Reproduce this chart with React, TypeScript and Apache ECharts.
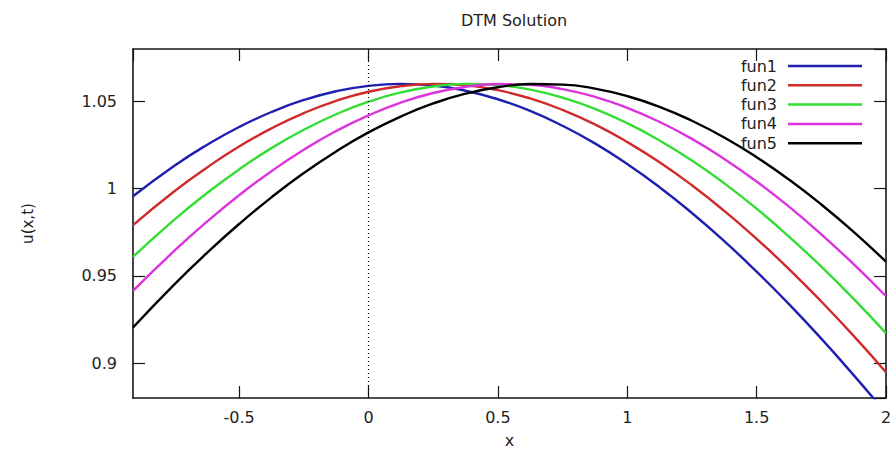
import React, { useEffect, useRef } from "react";
import * as echarts from "echarts";

// Sample positions along x and the solution curves u(x,t) at each of them
const xValues = [
  -0.91, -0.75, -0.625, -0.5, -0.375, -0.25, -0.125, 0, 0.125, 0.25, 0.375, 0.5,
  0.625, 0.75, 0.875, 1, 1.125, 1.25, 1.375, 1.5, 1.625, 1.75, 1.875, 2,
];

const fun1 = [
  0.9956, 1.0131, 1.025, 1.0353, 1.0439, 1.0508, 1.0558, 1.0589, 1.06, 1.0591, 1.0561, 1.0512,
  1.0445, 1.036, 1.0259, 1.0141, 1.0008, 0.986, 0.9699, 0.9524, 0.9338, 0.914, 0.8931, 0.8713,
];
const fun2 = [
  0.9791, 0.9985, 1.012, 1.0241, 1.0345, 1.0433, 1.0503, 1.0555, 1.0587, 1.06, 1.0592, 1.0564,
  1.0517, 1.0451, 1.0368, 1.0267, 1.0151, 1.0019, 0.9872, 0.9712, 0.9539, 0.9353, 0.9156, 0.8948,
];
const fun3 = [
  0.9609, 0.9822, 0.9973, 1.011, 1.0232, 1.0337, 1.0426, 1.0498, 1.0551, 1.0585, 1.06, 1.0593,
  1.0567, 1.0521, 1.0457, 1.0375, 1.0276, 1.0161, 1.003, 0.9885, 0.9725, 0.9553, 0.9368, 0.9172,
];
const fun4 = [
  0.9414, 0.9644, 0.981, 0.9962, 1.01, 1.0223, 1.033, 1.042, 1.0493, 1.0548, 1.0583, 1.0599,
  1.0595, 1.057, 1.0526, 1.0463, 1.0382, 1.0285, 1.017, 1.0041, 0.9897, 0.9738, 0.9567, 0.9383,
];
const fun5 = [
  0.9204, 0.9451, 0.963, 0.9797, 0.995, 1.0089, 1.0213, 1.0322, 1.0413, 1.0488, 1.0544, 1.0581,
  1.0599, 1.0596, 1.0573, 1.053, 1.0469, 1.0389, 1.0293, 1.018, 1.0052, 0.9909, 0.9752, 0.9581,
];

const seriesNames = ["fun1", "fun2", "fun3", "fun4", "fun5"];
const seriesValues = [fun1, fun2, fun3, fun4, fun5];
const seriesColors = ["#1f1fb0", "#d02a2a", "#33dd33", "#dd33dd", "#000000"];

const titleText = "DTM Solution";
const xName = "x";
const yName = "u(x,t)";

const FONT = "DejaVu Sans";
const FRAME = "#151515";
const TEXT = "#222222";

export default function App() {
  const ref = useRef<HTMLDivElement>(null);

  useEffect(() => {
    if (!ref.current) return;
    const chart = echarts.init(ref.current, null, { renderer: "svg" });

    const frameAxis = {
      type: "value" as const,
      splitLine: { show: false },
      axisLine: { show: true, onZero: false, lineStyle: { color: FRAME, width: 1.6 } },
      axisTick: { show: true, inside: true, length: 12, lineStyle: { color: FRAME, width: 1.2 } },
    };

    const xBase = { ...frameAxis, min: -0.91, max: 2, splitNumber: 5 };
    const yBase = { ...frameAxis, min: 0.88, max: 1.08, splitNumber: 4 };

    chart.setOption({
      animation: false,
      backgroundColor: "#ffffff",
      title: {
        text: titleText,
        left: 509,
        textAlign: "center",
        top: 7,
        textStyle: { fontFamily: FONT, fontSize: 16, fontWeight: "normal", color: TEXT },
      },
      legend: {
        right: 27,
        top: 53,
        orient: "vertical",
        align: "right",
        icon: "rect",
        itemWidth: 74,
        itemHeight: 2.5,
        itemGap: 3.3,
        selectedMode: false,
        textStyle: {
          fontFamily: FONT,
          fontSize: 16,
          color: TEXT,
          padding: [0, 6, 0, 0],
        },
        data: seriesNames,
      },
      grid: {
        left: 133,
        right: 8,
        top: 49,
        bottom: 52,
        containLabel: false,
        outerBoundsMode: "none",
      },
      xAxis: [
        {
          ...xBase,
          position: "bottom",
          name: xName,
          nameLocation: "middle",
          nameGap: 34,
          nameTextStyle: { fontFamily: FONT, fontSize: 16, color: TEXT },
          axisLabel: {
            fontFamily: FONT,
            fontSize: 16,
            color: TEXT,
            margin: 11,
            showMinLabel: false,
          },
        },
        { ...xBase, position: "top", axisLabel: { show: false } },
      ],
      yAxis: [
        {
          ...yBase,
          position: "left",
          name: yName,
          nameLocation: "middle",
          nameRotate: 90,
          nameGap: 98,
          nameTextStyle: { fontFamily: FONT, fontSize: 15, color: TEXT },
          axisLabel: {
            fontFamily: FONT,
            fontSize: 16,
            color: TEXT,
            margin: 16,
            showMinLabel: false,
            showMaxLabel: false,
          },
        },
        { ...yBase, position: "right", axisLabel: { show: false } },
      ],
      series: seriesNames.map((name, i) => ({
        name,
        type: "line",
        xAxisIndex: 0,
        yAxisIndex: 0,
        smooth: true,
        symbol: "none",
        color: seriesColors[i],
        lineStyle: { color: seriesColors[i], width: 2.4 },
        data: xValues.map((x, j) => [x, seriesValues[i][j]]),
        markLine:
          i === 0
            ? {
                silent: true,
                symbol: ["none", "none"],
                label: { show: false },
                lineStyle: { type: [1, 3], color: "#000", width: 1.2 },
                data: [{ xAxis: 0 }],
              }
            : undefined,
      })),
    });

    return () => chart.dispose();
  }, []);

  return (
    <div
      ref={ref}
      style={{ position: "absolute", left: 0, top: 0, width: 894, height: 450 }}
    />
  );
}
